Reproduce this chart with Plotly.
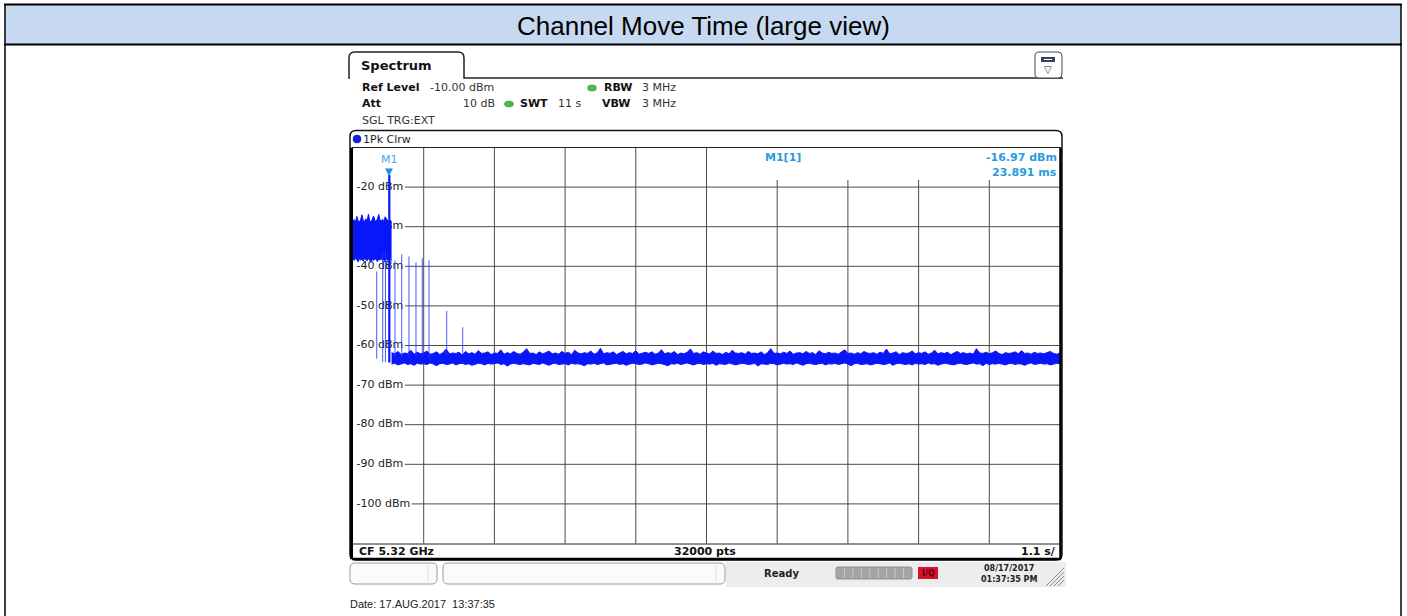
import numpy as np
import plotly.graph_objects as go

W, H = 1407, 616

# ---------------- data ----------------
sweep_time_s = 11.0
div_time_s = 1.1
n_div = 10
ref_level = -10.0
bottom_level = -110.0
y_tick_levels = [-20, -30, -40, -50, -60, -70, -80, -90, -100]

# strong burst at the start of the sweep (envelope, every 0.02 s)
burst_t0, burst_dt = 0.0, 0.02
burst_upper = [-28.6, -28.2, -28.8, -27.4, -28.5, -28.9, -28.1, -27.0, -28.4, -28.7,
               -28.0, -28.6, -26.8, -28.5, -28.9, -28.2, -27.3, -28.4, -28.7, -28.0,
               -26.9, -28.3, -28.6, -28.1, -28.8, -27.5, -28.2, -28.5, -28.7, -28.3,
               -28.9]
burst_lower = [-38.2, -38.5, -38.0, -38.3, -38.9, -38.1, -38.4, -38.2, -38.7, -38.0,
               -38.3, -38.6, -38.1, -38.4, -39.0, -38.2, -38.5, -38.1, -38.3, -38.8,
               -38.2, -38.4, -38.0, -38.6, -38.3, -38.9, -38.2, -38.5, -38.1, -38.4,
               -38.6]

# noise floor after the channel move (envelope, every 0.05 s)
noise_t0, noise_dt = 0.60, 0.05
noise_upper = [
    -61.8, -62.1, -61.5, -62.3, -61.9, -62.0, -61.2, -62.2, -61.7, -62.1,
    -61.9, -61.4, -62.2, -62.0, -61.6, -62.3, -61.8, -60.9, -62.1, -61.9,
    -62.0, -61.7, -62.4, -61.5, -62.1, -61.8, -62.2, -61.3, -62.0, -61.9,
    -61.6, -62.3, -61.9, -62.0, -61.1, -62.2, -61.8, -62.1, -61.5, -62.0,
    -62.2, -61.7, -60.8, -62.0, -61.9, -62.3, -61.6, -62.1, -61.8, -61.4,
    -62.1, -61.9, -62.2, -61.5, -62.0, -61.7, -62.3, -61.2, -61.9, -62.1,
    -61.8, -62.0, -61.4, -62.2, -61.9, -60.7, -62.1, -61.8, -62.0, -61.6,
    -62.3, -61.9, -61.5, -62.1, -61.8, -62.0, -61.3, -62.2, -61.9, -61.7,
    -62.0, -61.6, -62.2, -61.9, -61.1, -62.1, -61.8, -62.0, -61.5, -62.3,
    -61.9, -62.1, -61.7, -60.9, -62.0, -61.8, -62.2, -61.6, -61.9, -62.1,
    -61.4, -62.0, -61.9, -62.3, -61.7, -62.1, -61.2, -61.9, -62.0, -61.8,
    -62.2, -61.5, -62.0, -61.9, -62.1, -61.6, -62.3, -61.8, -60.8, -62.0,
    -61.9, -62.1, -61.7, -62.0, -61.4, -62.2, -61.9, -61.8, -62.1, -61.5,
    -62.0, -61.8, -62.3, -61.3, -61.9, -62.1, -61.7, -62.0, -61.9, -62.2,
    -61.6, -61.1, -62.0, -61.9, -62.2, -61.8, -62.1, -61.5, -61.9, -62.0,
    -61.8, -62.2, -61.7, -62.0, -60.9, -62.1, -61.9, -61.6, -62.3, -61.8,
    -62.0, -61.9, -61.4, -62.1, -61.8, -62.0, -61.6, -62.2, -61.9, -61.2,
    -62.1, -61.8, -62.0, -61.7, -62.3, -61.9, -61.5, -62.0, -61.8, -62.1,
    -61.9, -62.2, -60.8, -61.9, -62.0, -61.7, -62.1, -61.8, -61.4, -62.0,
    -62.3, -61.8, -62.0, -61.9, -61.6, -62.1, -61.3, -62.0, -61.9, -62.2,
    -61.7, -62.0, -61.9, -62.1, -61.8, -61.5, -62.0, -62.2, -61.9]
noise_lower = [
    -64.7, -64.5, -64.9, -64.6, -64.4, -64.8, -64.6, -65.0, -64.5, -64.7,
    -64.6, -64.8, -64.4, -64.7, -65.1, -64.6, -64.5, -64.8, -64.7, -64.4,
    -64.9, -64.6, -64.5, -64.8, -64.6, -65.0, -64.7, -64.5, -64.6, -64.9,
    -64.5, -64.7, -64.6, -64.4, -64.8, -64.6, -65.2, -64.7, -64.5, -64.6,
    -64.8, -64.6, -64.7, -64.9, -64.5, -64.6, -64.8, -64.4, -64.7, -65.0,
    -64.6, -64.5, -64.8, -64.7, -64.6, -64.9, -64.5, -64.7, -64.6, -64.8,
    -65.1, -64.6, -64.7, -64.5, -64.8, -64.6, -64.4, -64.9, -64.7, -64.6,
    -64.5, -64.8, -64.6, -65.0, -64.7, -64.5, -64.6, -64.8, -64.7, -64.4,
    -64.6, -64.9, -64.7, -64.5, -64.6, -64.8, -65.1, -64.6, -64.7, -64.5,
    -64.8, -64.6, -64.4, -64.7, -64.9, -64.6, -64.5, -64.8, -64.6, -64.7,
    -64.5, -65.0, -64.6, -64.7, -64.8, -64.4, -64.6, -64.9, -64.7, -64.5,
    -64.6, -64.8, -64.7, -64.5, -65.2, -64.6, -64.7, -64.8, -64.5, -64.6,
    -64.9, -64.6, -64.5, -64.7, -64.6, -64.8, -64.4, -64.7, -65.0, -64.6,
    -64.5, -64.7, -64.8, -64.6, -64.5, -64.9, -64.6, -64.7, -64.5, -64.8,
    -64.6, -64.4, -64.7, -65.1, -64.6, -64.5, -64.8, -64.7, -64.6, -64.9,
    -64.7, -64.5, -64.6, -64.8, -64.7, -64.4, -65.0, -64.6, -64.5, -64.7,
    -64.8, -64.6, -64.9, -64.5, -64.7, -64.6, -64.8, -64.4, -64.7, -64.6,
    -65.0, -64.7, -64.5, -64.6, -64.8, -64.9, -64.6, -64.5, -64.7, -64.8,
    -64.6, -64.4, -64.7, -64.6, -65.1, -64.5, -64.8, -64.6, -64.7, -64.5,
    -64.7, -64.9, -64.6, -64.5, -64.8, -64.6, -64.7, -65.0, -64.6, -64.4,
    -64.8, -64.6, -64.5, -64.7, -64.6, -64.9, -64.7, -64.5, -64.6]

# isolated transmissions (thin vertical lines)
spike_t = [0.369, 0.462, 0.505, 0.653, 0.758, 0.871, 0.980, 1.078, 1.182, 1.458, 1.707]
spike_top = [-41.3, -36.5, -36.0, -38.5, -37.0, -37.5, -39.0, -38.0, -38.5, -51.3, -55.4]
spike_bottom = [-63.3, -64.2, -64.2, -63.0, -63.0, -63.0, -63.0, -63.0, -63.0, -62.5, -62.5]

# marker M1
m1_t = 0.565
m1_level = -16.97
m1_bottom = -64.3
m1_level_text = "-16.97 dBm"
m1_time_text = "23.891 ms"

# ---------------- helpers (pixel -> paper) ----------------
def X(px):
    return px / W


def Y(py):
    return 1 - py / H


def rrect_path(x0, y0, x1, y1, r):
    pts = [
        ("M", [(x0 + r, y0)]), ("L", [(x1 - r, y0)]), ("Q", [(x1, y0), (x1, y0 + r)]),
        ("L", [(x1, y1 - r)]), ("Q", [(x1, y1), (x1 - r, y1)]), ("L", [(x0 + r, y1)]),
        ("Q", [(x0, y1), (x0, y1 - r)]), ("L", [(x0, y0 + r)]), ("Q", [(x0, y0), (x0 + r, y0)]),
    ]
    s = ""
    for cmd, ps in pts:
        s += cmd + " " + " ".join(f"{X(a):.6f},{Y(b):.6f}" for a, b in ps) + " "
    return s + "Z"


shapes = []
annos = []


def line(x0, y0, x1, y1, color="black", width=1, layer="above"):
    shapes.append(dict(type="line", xref="paper", yref="paper", x0=X(x0), y0=Y(y0),
                       x1=X(x1), y1=Y(y1), line=dict(color=color, width=width), layer=layer))


def rect(x0, y0, x1, y1, fill, lc=None, lw=0, layer="above"):
    shapes.append(dict(type="rect", xref="paper", yref="paper", x0=X(x0), y0=Y(y0),
                       x1=X(x1), y1=Y(y1), fillcolor=fill,
                       line=dict(color=lc or fill, width=lw), layer=layer))


def rrect(x0, y0, x1, y1, r, fill=None, lc="black", lw=1, layer="above"):
    d = dict(type="path", xref="paper", yref="paper", path=rrect_path(x0, y0, x1, y1, r),
             line=dict(color=lc, width=lw), layer=layer)
    if fill:
        d["fillcolor"] = fill
    shapes.append(d)


def text(x, y, t, size=11, color="#111", anchor="left", family="DejaVu Sans"):
    annos.append(dict(x=X(x), y=Y(y), xref="paper", yref="paper", text=t, showarrow=False,
                      xanchor=anchor, yanchor="middle",
                      font=dict(family=family, size=size, color=color), borderpad=0))


INST = "DejaVu Sans"
BLUE = "rgb(8,22,250)"
MK = "#2a9be0"
GRID = "#4a4a4a"

# plot area in pixels
PX0, PX1, PY0, PY1 = 353, 1060, 147.5, 543.5

# ---------------- page / table ----------------
rect(5, 5, 1401, 44, "#c6d9f1")
line(4, 4.5, 1402, 4.5, width=2)
line(4, 44.5, 1402, 44.5, width=2)
line(5, 4, 5, 616, width=1.5)
line(1401, 4, 1401, 616, width=1.5)
annos.append(dict(x=X(703), y=Y(25.5), xref="paper", yref="paper",
                  text="Channel Move Time (large view)", showarrow=False,
                  xanchor="center", yanchor="middle",
                  font=dict(family="Liberation Sans", size=26, color="black")))

# ---------------- instrument screen ----------------
# tab
shapes.append(dict(type="path", xref="paper", yref="paper",
                   path=(f"M {X(349):.6f},{Y(79):.6f} L {X(349):.6f},{Y(58):.6f} "
                         f"Q {X(349):.6f},{Y(52):.6f} {X(355):.6f},{Y(52):.6f} "
                         f"L {X(458):.6f},{Y(52):.6f} Q {X(464):.6f},{Y(52):.6f} {X(464):.6f},{Y(58):.6f} "
                         f"L {X(464):.6f},{Y(78):.6f} L {X(1063):.6f},{Y(78):.6f}"),
                   line=dict(color="#222", width=1.5)))
text(360, 66, "<b>Spectrum</b>", size=13)

# icon box top right
rrect(1035, 52, 1062, 78, 4, fill="white", lc="#444", lw=1)
rect(1041, 57, 1055, 62, "#3a4060")
line(1044, 59.5, 1052, 59.5, color="white", width=1)
text(1048, 69, "▽", size=10, color="#333", anchor="center")

# header info rows
text(361, 88, "<b>Ref Level</b>", size=11)
text(429, 88, "-10.00 dBm", size=11, color="#333")
text(603, 88, "<b>RBW</b>", size=11)
text(641, 88, "3 MHz", size=11, color="#333")
text(361, 104, "<b>Att</b>", size=11)
text(462, 104, "10 dB", size=11, color="#333")
text(519, 104, "<b>SWT</b>", size=11)
text(557, 104, "11 s", size=11, color="#333")
text(601, 104, "<b>VBW</b>", size=11)
text(641, 104, "3 MHz", size=11, color="#333")
text(361, 121, "SGL TRG:EXT", size=11, color="#333")
for gx, gy in [(592, 88), (509, 104)]:
    shapes.append(dict(type="circle", xref="paper", yref="paper", x0=X(gx - 4.5), x1=X(gx + 4.5),
                       y0=Y(gy - 3), y1=Y(gy + 3), fillcolor="#48b848",
                       line=dict(color="#2f8f2f", width=0.5)))

# graph frame
rrect(350, 130.5, 1062, 560, 6, fill=None, lc="#111", lw=1.5)
line(351.5, 147.5, 1061, 147.5, color="#222", width=1)
line(351.5, 148, 351.5, 559, color="black", width=3)
line(1060.5, 148, 1060.5, 559, color="black", width=2.5)
line(350, 544, 1062, 544, color="#222", width=1)
line(352, 559, 1061, 559, color="black", width=2.5)
shapes.append(dict(type="circle", xref="paper", yref="paper", x0=X(353), x1=X(361),
                   y0=Y(135), y1=Y(143), fillcolor="#1020e0", line=dict(color="#0a1090", width=0.5)))
text(362, 139, "1Pk Clrw", size=11, color="#222")

# bottom bar in frame
text(358, 551, "<b>CF 5.32 GHz</b>", size=11)
text(705, 551, "<b>32000 pts</b>", size=11, anchor="center")
text(1057, 551, "<b>1.1 s/</b>", size=11, anchor="right")

# status bar
rect(726, 562, 1066, 587, "#ececec")
rrect(350, 563, 437, 584, 5, fill="#fbfbfb", lc="#9a9a9a", lw=1)
rrect(443, 563, 725, 584, 5, fill="#fbfbfb", lc="#9a9a9a", lw=1)
line(428, 565, 428, 582, color="#dddddd", width=1)
line(716, 565, 716, 582, color="#dddddd", width=1)
text(763, 573, "<b>Ready</b>", size=10, color="#222")
rrect(836, 567, 912, 579, 2, fill="#a5a5a5", lc="#909090", lw=1)
for i in range(1, 9):
    sx = 836 + i * 76 / 9
    line(sx, 568, sx, 578, color="#c8c8c8", width=1)
rect(918, 567, 938, 579, "#d8102c")
text(928, 573, "<b>I/Q</b>", size=8, color="#5a0010", anchor="center")
text(1009, 568, "<b>08/17/2017</b>", size=8, color="#222", anchor="center")
text(1009, 579, "<b>01:37:35 PM</b>", size=8, color="#222", anchor="center")
for k in range(4):
    line(1046 + k * 4, 586, 1064, 568 + k * 4, color="#888", width=1)

text(349, 604, "Date: 17.AUG.2017  13:37:35", size=11, color="#222", family="Liberation Sans")

# ---------------- plot-area grid (axis-referenced, drawn under traces) ----------------
# horizontal level lines start right after their in-plot label
for lv in y_tick_levels:
    start = 0.083 if lv <= -100 else 0.0735
    shapes.append(dict(type="line", xref="x domain", yref="y", x0=start, x1=1, y0=lv, y1=lv,
                       line=dict(color=GRID, width=1), layer="below"))
# vertical time-division lines; those right of the centre stop under the marker readout
readout_bottom = (PY1 - 180) / (PY1 - PY0)
for k in range(1, n_div):
    top = 1.0 if k <= n_div // 2 else readout_bottom
    shapes.append(dict(type="line", xref="x", yref="y domain", x0=k * div_time_s, x1=k * div_time_s,
                       y0=0, y1=top, line=dict(color=GRID, width=1), layer="below"))

text(783, 157, "<b>M1[1]</b>", size=11, color=MK, anchor="center")
text(1058, 157, f"<b>{m1_level_text}</b>", size=11, color=MK, anchor="right")
text(1058, 172, f"<b>{m1_time_text}</b>", size=11, color=MK, anchor="right")

# ---------------- traces ----------------
fig = go.Figure()

# y level labels (under the trace)
fig.add_trace(go.Scatter(x=[0] * len(y_tick_levels), y=y_tick_levels, mode="text",
                         text=[f" {v} dBm" for v in y_tick_levels], textposition="middle right",
                         textfont=dict(family=INST, size=11, color="#222"),
                         cliponaxis=False, hoverinfo="skip"))

burst_t = burst_t0 + burst_dt * np.arange(len(burst_upper))
noise_t = noise_t0 + noise_dt * np.arange(len(noise_upper))

fig.add_trace(go.Scatter(x=burst_t, y=burst_lower, mode="lines",
                         line=dict(color=BLUE, width=1)))
fig.add_trace(go.Scatter(x=burst_t, y=burst_upper, mode="lines", fill="tonexty",
                         fillcolor=BLUE, line=dict(color=BLUE, width=1)))
fig.add_trace(go.Scatter(x=noise_t, y=noise_lower, mode="lines",
                         line=dict(color=BLUE, width=1)))
fig.add_trace(go.Scatter(x=noise_t, y=noise_upper, mode="lines", fill="tonexty",
                         fillcolor=BLUE, line=dict(color=BLUE, width=1)))

sx, sy = [], []
for t, top, bot in zip(spike_t, spike_top, spike_bottom):
    sx += [t, t, None]
    sy += [bot, top, None]
fig.add_trace(go.Scatter(x=sx, y=sy, mode="lines",
                         line=dict(color="rgba(40,60,255,0.85)", width=1)))
fig.add_trace(go.Scatter(x=[m1_t, m1_t], y=[m1_bottom, m1_level], mode="lines",
                         line=dict(color=BLUE, width=2.2)))

annos.append(dict(x=m1_t, y=m1_level, xref="x", yref="y", text="▼", showarrow=False,
                  xanchor="center", yanchor="bottom", yshift=-4,
                  font=dict(family=INST, size=10, color="#1f8fe0")))
annos.append(dict(x=m1_t, y=m1_level, xref="x", yref="y", text="M1", showarrow=False,
                  xanchor="center", yanchor="bottom", yshift=7,
                  font=dict(family=INST, size=11, color="#4aa8e8")))

fig.update_layout(
    width=W, height=H, margin=dict(l=0, r=0, t=0, b=0),
    paper_bgcolor="white", plot_bgcolor="white", showlegend=False, hovermode=False,
    xaxis=dict(domain=[X(PX0), X(PX1)], range=[0, sweep_time_s],
               showgrid=False, showticklabels=False,
               zeroline=False, showline=False, ticks="", fixedrange=True),
    yaxis=dict(domain=[Y(PY1), Y(PY0)], range=[bottom_level, ref_level],
               showgrid=False, showticklabels=False, zeroline=False, showline=False,
               ticks="", fixedrange=True),
    shapes=shapes, annotations=annos,
)

fig.write_html("out.html", config={"displayModeBar": False},
               post_script="document.body.style.margin='0';")
